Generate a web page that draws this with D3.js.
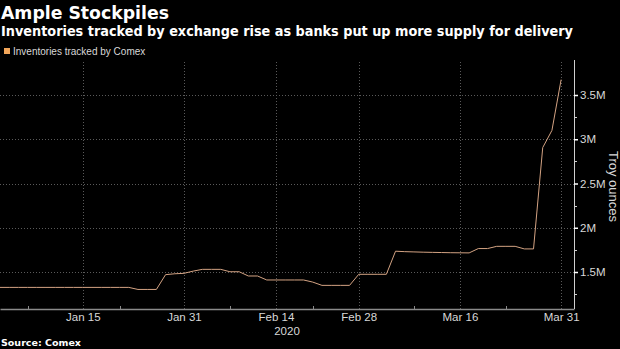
<!DOCTYPE html>
<html>
<head>
<meta charset="utf-8">
<script src="https://cdn.jsdelivr.net/npm/d3@7"></script>
<style>
  html, body { margin: 0; padding: 0; background: #000; }
  svg { display: block; }
</style>
</head>
<body>
<svg id="chart" width="620" height="349"></svg>
<script>
// Comex inventories, trading days of Q1 2020 (troy ounces, millions)
const tradingDays = [
  "2020-01-02","2020-01-03","2020-01-06","2020-01-07","2020-01-08","2020-01-09","2020-01-10",
  "2020-01-13","2020-01-14","2020-01-15","2020-01-16","2020-01-17",
  "2020-01-21","2020-01-22","2020-01-23","2020-01-24",
  "2020-01-27","2020-01-28","2020-01-29","2020-01-30","2020-01-31",
  "2020-02-03","2020-02-04","2020-02-05","2020-02-06","2020-02-07",
  "2020-02-10","2020-02-11","2020-02-12","2020-02-13","2020-02-14",
  "2020-02-18","2020-02-19","2020-02-20","2020-02-21",
  "2020-02-24","2020-02-25","2020-02-26","2020-02-27","2020-02-28",
  "2020-03-02","2020-03-03","2020-03-04","2020-03-05","2020-03-06",
  "2020-03-09","2020-03-10","2020-03-11","2020-03-12","2020-03-13",
  "2020-03-16","2020-03-17","2020-03-18","2020-03-19","2020-03-20",
  "2020-03-23","2020-03-24","2020-03-25","2020-03-26","2020-03-27",
  "2020-03-30","2020-03-31"
];
const inventoryM = [
  1.326,1.326,1.326,1.326,1.326,1.326,1.326,
  1.326,1.326,1.326,1.326,1.326,
  1.326,1.326,1.326,1.303,
  1.303,1.303,1.470,1.480,1.485,
  1.510,1.530,1.530,1.530,1.503,
  1.503,1.455,1.455,1.410,1.410,
  1.410,1.410,1.410,1.386,
  1.349,1.349,1.349,1.349,1.474,
  1.474,1.474,1.474,1.735,1.730,
  1.727,1.724,1.722,1.720,1.718,
  1.717,1.716,1.765,1.765,1.790,
  1.790,1.790,1.761,1.761,2.906,
  3.100,3.674
];
const majorTickDates = ["2020-01-15","2020-01-31","2020-02-14","2020-02-28","2020-03-16","2020-03-31"];
const majorTickLabels = ["Jan 15","Jan 31","Feb 14","Feb 28","Mar 16","Mar 31"];
const minorTickDates = ["2020-01-07","2020-01-22","2020-02-07","2020-02-21","2020-03-09","2020-03-23"];
const yTickValues = [1.5, 2, 2.5, 3, 3.5];
const yTickLabels = ["1.5M","2M","2.5M","3M","3.5M"];
const yMinorValues = [1.25, 1.75, 2.25, 2.75, 3.25];

const svg = d3.select("#chart");
const plot = { left: 0, right: 574, top: 62, bottom: 309 };

const x = d3.scaleLinear().domain([0, 62.4]).range([plot.left, plot.right]);
const y = d3.scaleLinear().domain([1.082, 3.873]).range([plot.bottom, plot.top]);
const idx = d => tradingDays.indexOf(d);

// Title block
svg.append("text").attr("x", 1).attr("y", 19)
  .attr("fill", "#fff").attr("font-family", "DejaVu Sans").attr("font-weight", "bold")
  .attr("font-size", 17.3).text("Ample Stockpiles");
svg.append("text").attr("x", 1).attr("y", 36)
  .attr("fill", "#fff").attr("font-family", "DejaVu Sans").attr("font-weight", "bold")
  .attr("font-size", 13.5)
  .attr("textLength", 572).attr("lengthAdjust", "spacingAndGlyphs")
  .text("Inventories tracked by exchange rise as banks put up more supply for delivery");

// Legend
svg.append("rect").attr("x", 4).attr("y", 48).attr("width", 6).attr("height", 6).attr("fill", "#f2a65a");
svg.append("text").attr("x", 13).attr("y", 55).attr("fill", "#d8d8d8")
  .attr("font-family", "Liberation Sans").attr("font-size", 10)
  .text("Inventories tracked by Comex");

// Grid
const grid = svg.append("g");
grid.selectAll("line.h").data(yTickValues).join("line")
  .attr("x1", plot.left).attr("x2", plot.right)
  .attr("y1", d => Math.round(y(d)) + 0.5).attr("y2", d => Math.round(y(d)) + 0.5)
  .attr("stroke", "#5a5a5a").attr("stroke-width", 1).attr("stroke-dasharray", "1,2");
grid.selectAll("line.v").data(majorTickDates).join("line")
  .attr("x1", d => Math.round(x(idx(d))) + 0.5).attr("x2", d => Math.round(x(idx(d))) + 0.5)
  .attr("y1", plot.top).attr("y2", plot.bottom)
  .attr("stroke", "#5a5a5a").attr("stroke-width", 1).attr("stroke-dasharray", "1,2");

// Bottom axis
const xAxis = d3.axisBottom(x)
  .tickValues(majorTickDates.map(idx))
  .tickFormat((d, i) => majorTickLabels[i])
  .tickSize(0).tickPadding(4);
const gx = svg.append("g").attr("transform", `translate(0,${plot.bottom})`).call(xAxis);
gx.select(".domain").attr("stroke", "#8a8a8a").attr("stroke-width", 1.5);
gx.selectAll("text").attr("fill", "#d8d8d8").attr("font-family", "Liberation Sans").attr("font-size", 11.5);
gx.selectAll(".minor").data(minorTickDates).join("line").attr("class", "minor")
  .attr("x1", d => Math.round(x(idx(d))) + 0.5).attr("x2", d => Math.round(x(idx(d))) + 0.5)
  .attr("y1", -3).attr("y2", 0).attr("stroke", "#8a8a8a");
svg.append("text").attr("x", (plot.left + plot.right) / 2).attr("y", 335)
  .attr("text-anchor", "middle").attr("fill", "#d8d8d8")
  .attr("font-family", "Liberation Sans").attr("font-size", 11.5).text("2020");

// Right axis
const yAxis = d3.axisRight(y)
  .tickValues(yTickValues)
  .tickFormat((d, i) => yTickLabels[i])
  .tickSize(4).tickPadding(2);
const gy = svg.append("g").attr("transform", `translate(${plot.right},0)`).call(yAxis);
gy.select(".domain").attr("stroke", "#cfcfcf").attr("stroke-width", 1)
  .attr("d", `M0.5,${plot.top - 2}V${plot.bottom}`);
gy.selectAll(".tick line").attr("stroke", "#fff").attr("stroke-width", 1.5);
gy.selectAll("text").attr("fill", "#d8d8d8").attr("font-family", "Liberation Sans").attr("font-size", 11.5);
gy.selectAll(".yminor").data(yMinorValues).join("line").attr("class", "yminor")
  .attr("x1", 0).attr("x2", 3)
  .attr("y1", d => Math.round(y(d)) + 0.5).attr("y2", d => Math.round(y(d)) + 0.5)
  .attr("stroke", "#cfcfcf");

svg.append("text")
  .attr("transform", `translate(609,${(plot.top + plot.bottom) / 2 + 1}) rotate(90)`)
  .attr("text-anchor", "middle").attr("fill", "#d8d8d8")
  .attr("font-family", "Liberation Sans").attr("font-size", 13).text("Troy ounces");

// Series
const line = d3.line().x((d, i) => x(i)).y(d => y(d));
svg.append("path").datum(inventoryM).attr("d", line)
  .attr("fill", "none").attr("stroke", "#d4a383").attr("stroke-width", 1);

// Footer
svg.append("text").attr("x", 1).attr("y", 346).attr("fill", "#fff")
  .attr("font-family", "DejaVu Sans").attr("font-weight", "bold").attr("font-size", 9.5)
  .text("Source: Comex");
</script>
</body>
</html>
